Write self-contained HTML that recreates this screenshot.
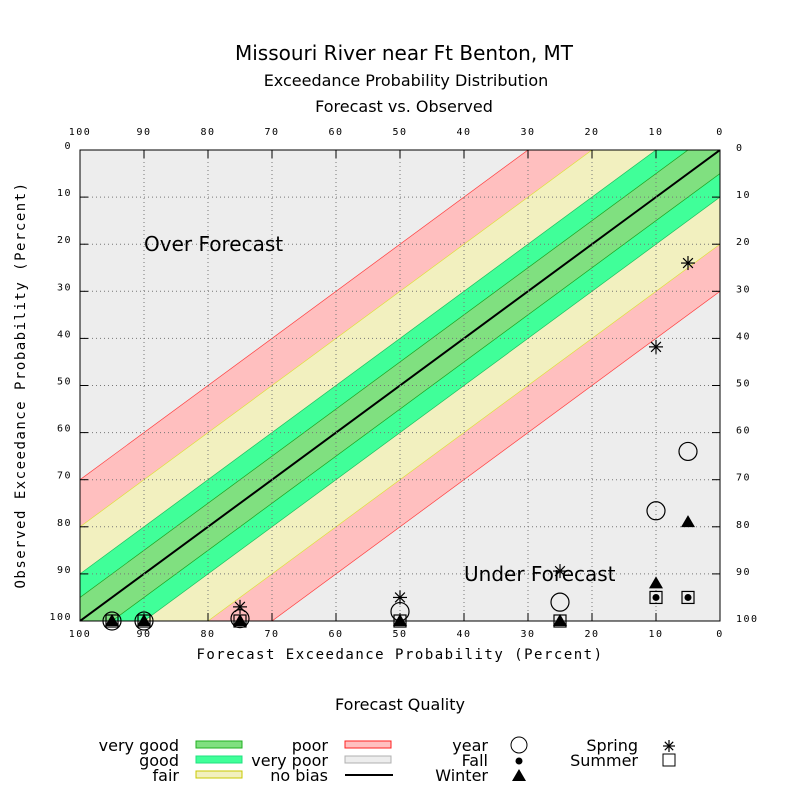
<!DOCTYPE html>
<html><head><meta charset="utf-8"><style>
html,body{margin:0;background:#fff;width:800px;height:800px;overflow:hidden}
svg{display:block}
.t{font-family:"DejaVu Sans","Liberation Sans",sans-serif}
.m{font-family:"DejaVu Sans Mono","Liberation Mono",monospace;font-size:10px;letter-spacing:1.5px}
</style></head><body>
<svg id="c" width="800" height="800" xmlns="http://www.w3.org/2000/svg">
<text class="t" x="404" y="60" font-size="20" text-anchor="middle">Missouri River near Ft Benton, MT</text>
<text class="t" x="406" y="86" font-size="16" text-anchor="middle">Exceedance Probability Distribution</text>
<text class="t" x="404" y="112" font-size="16" text-anchor="middle">Forecast vs. Observed</text>
<defs><clipPath id="pc"><rect x="80" y="150" width="640" height="471"/></clipPath></defs>
<rect x="80" y="150" width="640" height="471" fill="#ededed"/>
<g id="bands" clip-path="url(#pc)"></g>
<g id="grid"></g>
<g id="pts"></g>
<rect x="80" y="150" width="640" height="471" fill="none" stroke="#000"/>
<text class="t" x="144" y="251" font-size="20">Over Forecast</text>
<text class="t" x="464" y="581" font-size="20">Under Forecast</text>
<text class="m" x="400" y="659" text-anchor="middle" style="font-size:14px;letter-spacing:1.5px">Forecast Exceedance Probability (Percent)</text>
<text class="m" transform="translate(25,385) rotate(-90)" text-anchor="middle" style="font-size:14px;letter-spacing:1.5px">Observed Exceedance Probability (Percent)</text>
<text class="t" x="400" y="710" font-size="16" text-anchor="middle">Forecast Quality</text>
<g id="legend" class="t" font-size="16"></g>
</svg>
<script>
const ticks=[0,10,20,30,40,50,60,70,80,90,100];
const bandOffsets=[30,20,10,5];
const bandColors=['#ffbfbf','#f2f0bf','#40ff99','#80e080'];
const bandStrokes=['#ff4040','#e0e040','#20c060','#20a020'];
const bandNames=['poor-band','fair-band','good-band','very-good-band'];
const yearF=[95,90,75,50,25,10,5], yearO=[100,100,99.5,98,96,76.6,64];
const springF=[75,50,25,10,5], springO=[97,95,89.4,41.8,24];
const summerF=[95,90,75,50,25,10,5], summerO=[100,100,100,100,100,95,95];
const fallF=[10,5], fallO=[95,95];
const winterF=[95,90,75,50,25,10,5], winterO=[100,100,100,100,100,92,79];
const NS='http://www.w3.org/2000/svg';
const X=v=>80+(100-v)*6.4, Y=v=>150+v*4.71;
function mk(tag,at,parent){const e=document.createElementNS(NS,tag);for(const k in at)e.setAttribute(k,at[k]);parent.appendChild(e);return e;}
const bands=document.getElementById('bands');
bandOffsets.forEach((o,i)=>{
  const p=mk('polygon',{points:`${X(100)},${Y(100+o)} ${X(-10)},${Y(-10+o)} ${X(-10)},${Y(-10-o)} ${X(100)},${Y(100-o)} ${X(120)},${Y(120-o)} ${X(120)},${Y(120+o)}`,fill:bandColors[i],stroke:bandStrokes[i],'stroke-width':0.7},bands);
  
  
});
const nb=mk('line',{x1:X(100),y1:Y(100),x2:X(0),y2:Y(0),stroke:'#000','stroke-width':2},bands);


const grid=document.getElementById('grid');
ticks.forEach(t=>{
  if(t>0&&t<100){
    const gv=mk('line',{x1:X(t),y1:150,x2:X(t),y2:621,stroke:'#777','stroke-dasharray':'1,3','stroke-width':1},grid);
    
    
    const gh=mk('line',{x1:80,y1:Y(t),x2:720,y2:Y(t),stroke:'#777','stroke-dasharray':'1,3','stroke-width':1},grid);
    
    
  }
  mk('line',{x1:X(t),y1:621,x2:X(t),y2:613,stroke:'#000'},grid);
  mk('line',{x1:X(t),y1:150,x2:X(t),y2:158,stroke:'#000'},grid);
  mk('line',{x1:80,y1:Y(t),x2:88,y2:Y(t),stroke:'#000'},grid);
  mk('line',{x1:720,y1:Y(t),x2:712,y2:Y(t),stroke:'#000'},grid);
  [[X(t),637,'x-tick-label'],[X(t),135,'top-tick-label']].forEach(a=>{
    const tx=mk('text',{x:a[0],y:a[1],'text-anchor':'middle',class:'m'},grid);tx.textContent=t;
    
    
  });
  const ly=mk('text',{x:72,y:Y(t)-1,'text-anchor':'end',class:'m'},grid);ly.textContent=t;
  
  
  const ry=mk('text',{x:736,y:Y(t)+1,'text-anchor':'start',class:'m'},grid);ry.textContent=t;
  
  
});
const pts=document.getElementById('pts');
function star(g,x,y,r){[[r,0],[0,r],[r*.7,r*.7],[r*.7,-r*.7]].forEach(d=>mk('line',{x1:x-d[0],y1:y-d[1],x2:x+d[0],y2:y+d[1],stroke:'#000','stroke-width':1.2},g));}
function tri(g,x,y){mk('polygon',{points:`${x},${y-7} ${x-7},${y+5} ${x+7},${y+5}`,fill:'#000'},g);}
yearF.forEach((f,i)=>{const e=mk('circle',{cx:X(f),cy:Y(yearO[i]),r:9,fill:'none',stroke:'#000','stroke-width':1.2},pts);
  
  });
summerF.forEach((f,i)=>{const e=mk('rect',{x:X(f)-6,y:Y(summerO[i])-6,width:12,height:12,fill:'none',stroke:'#000','stroke-width':1.2},pts);
  
  });
fallF.forEach((f,i)=>{const e=mk('circle',{cx:X(f),cy:Y(fallO[i]),r:3.5,fill:'#000'},pts);
  
  });
winterF.forEach((f,i)=>{const g=mk('g',{},pts);tri(g,X(f),Y(winterO[i]));
  
  });
springF.forEach((f,i)=>{const g=mk('g',{},pts);star(g,X(f),Y(springO[i]),7);
  
  });
const lg=document.getElementById('legend');
const L=[['very good',179,751,'#80e080','#20b020'],['good',179,766,'#40ff99','#20e080'],['fair',179,781,'#f2f0bf','#c8c800'],
['poor',328,751,'#ffbfbf','#ff2020'],['very poor',328,766,'#ededed','#b0b0b0']];
L.forEach(l=>{const t=mk('text',{x:l[1],y:l[2],'text-anchor':'end'},lg);t.textContent=l[0];
  
  
  const r=mk('rect',{x:l[1]+17,y:l[2]-10,width:46,height:7,fill:l[3],stroke:l[4]},lg);
  
  });
const nt=mk('text',{x:328,y:781,'text-anchor':'end'},lg);nt.textContent='no bias';


mk('line',{x1:345,y1:775,x2:393,y2:775,stroke:'#000','stroke-width':2},lg);
[['year',488,751],['Fall',488,766],['Winter',488,781],['Spring',638,751],['Summer',638,766]].forEach(l=>{
  const t=mk('text',{x:l[1],y:l[2],'text-anchor':'end'},lg);t.textContent=l[0];
  
  });
mk('ellipse',{cx:519,cy:745,rx:8,ry:8,fill:'none',stroke:'#000'},lg);
mk('circle',{cx:519,cy:761,r:3.5,fill:'#000'},lg);
tri(lg,519,776);
star(lg,669,746,6);
mk('rect',{x:663,y:754,width:12,height:12,fill:'none',stroke:'#000'},lg);
</script>
</body></html>
